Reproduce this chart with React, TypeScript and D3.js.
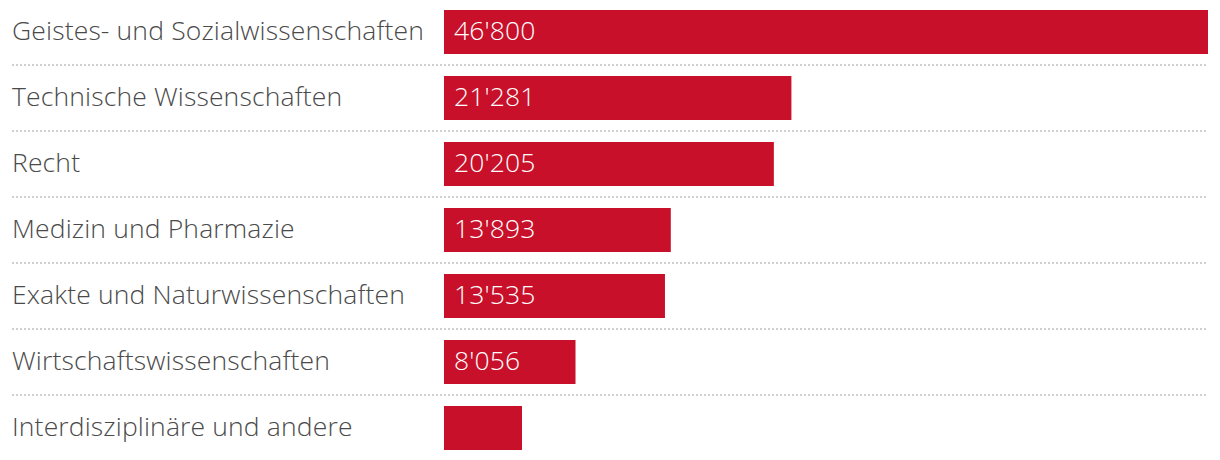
import React from "react";
import * as d3 from "d3";

const categories = [
  "Geistes- und Sozialwissenschaften",
  "Technische Wissenschaften",
  "Recht",
  "Medizin und Pharmazie",
  "Exakte und Naturwissenschaften",
  "Wirtschaftswissenschaften",
  "Interdisziplinäre und andere",
];
const values = [46800, 21281, 20205, 13893, 13535, 8056, 4778];
const showLabel = [true, true, true, true, true, true, false];

const W = 1220;
const H = 460;
const x0 = 444;
const x1 = 1208;
const fmt = (v: number) => d3.format(",")(v).replace(/,/g, "'");

export default function App() {
  const x = d3.scaleLinear().domain([0, d3.max(values)!]).range([x0, x1]);
  const y = d3.scaleBand().domain(categories).range([10, 450]).paddingInner(22 / 66).paddingOuter(0);
  const font = "'Open Sans', sans-serif";
  return (
    <svg width={W} height={H} style={{ position: "absolute", left: 0, top: 0 }}>
      {categories.map((c, i) => {
        const yy = y(c)!;
        const bh = y.bandwidth();
        return (
          <g key={c}>
            <text x={12} y={yy + 30} fontFamily={font} fontSize={26.5} fill="#4a4a4a" fontWeight={300} letterSpacing={0.15}>
              {c}
            </text>
            <rect x={x0} y={yy} width={x(values[i]) - x0} height={bh} fill="#c8102a" />
            {showLabel[i] && (
              <text x={x0 + 10} y={yy + 30} fontFamily={font} fontSize={26.5} fontWeight={300} fill="#fff" letterSpacing={0.15}>
                {fmt(values[i])}
              </text>
            )}
            {i < categories.length - 1 && (
              <line x1={12} x2={1208} y1={yy + 55} y2={yy + 55} stroke="#cfcfcf" strokeWidth={2} strokeDasharray="2 2" />
            )}
          </g>
        );
      })}
    </svg>
  );
}
